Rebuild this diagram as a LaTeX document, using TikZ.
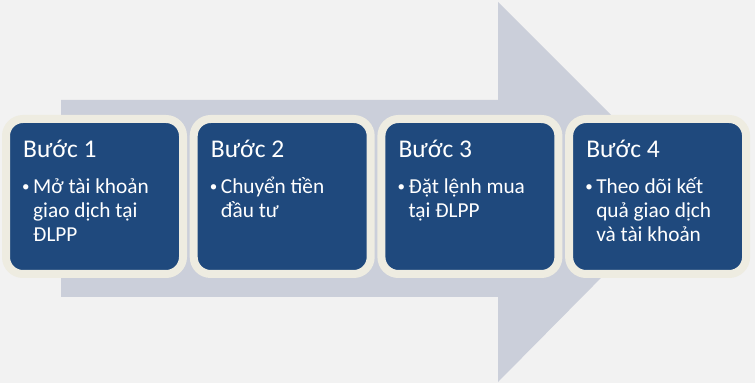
\documentclass[tikz,border=0pt]{standalone}
\usepackage{fontspec}
\setmainfont{Carlito}
\usetikzlibrary{shadows}
\definecolor{bgc}{HTML}{F2F2F2}
\definecolor{arrowc}{HTML}{CBCFDA}
\definecolor{boxc}{HTML}{1F497D}
\definecolor{rimc}{HTML}{EEECE1}
\tikzset{
  x=1pt,y=1pt,
  stepbox/.style={draw=rimc, line width=8pt, fill=boxc, rounded corners=17pt,
    minimum width=177pt, minimum height=155pt, inner sep=0pt, outer sep=0pt,
    drop shadow={shadow xshift=0pt, shadow yshift=-3pt, opacity=0.25, fill=black}},
  titletxt/.style={anchor=base west, inner sep=0pt, text=white, font=\fontsize{25.5}{30}\selectfont},
  linetxt/.style={anchor=base west, inner sep=0pt, text=white, font=\fontsize{21.3}{25}\selectfont},
  dottxt/.style={anchor=base west, inner sep=0pt, text=white, font=\fontsize{15}{18}\selectfont},
}
\begin{document}
\begin{tikzpicture}
\fill[bgc] (0,0) rectangle (755,383);
\useasboundingbox (0,0) rectangle (755,383);
% big arrow
\fill[arrowc] (61,283) -- (498,283) -- (498,381) -- (687,192) -- (498,1) -- (498,86) -- (61,86) -- cycle;
% boxes
\foreach \i/\t/\a/\b/\c in {
  1/{Bước 1}/{Mở tài khoản}/{giao dịch tại}/{ĐLPP},
  2/{Bước 2}/{Chuyển tiền}/{đầu tư}/{},
  3/{Bước 3}/{Đặt lệnh mua}/{tại ĐLPP}/{},
  4/{Bước 4}/{Theo dõi kết}/{quả giao dịch}/{và tài khoản}}{
  \node[stepbox] (b\i) at ({94.5+187.7*(\i-1)},186.5) {};
  \node[titletxt] (t\i) at ([xshift=17pt,yshift=-39pt]b\i.north west) {\t};
  \node[dottxt] (d\i) at ([xshift=16pt,yshift=-73pt]b\i.north west) {•};
  \node[linetxt] (la\i) at ([xshift=27pt,yshift=-75pt]b\i.north west) {\a};
  \node[linetxt] (lb\i) at ([xshift=27pt,yshift=-99pt]b\i.north west) {\b};
  \node[linetxt] (lc\i) at ([xshift=27pt,yshift=-123pt]b\i.north west) {\c};
}
\end{tikzpicture}
\end{document}
